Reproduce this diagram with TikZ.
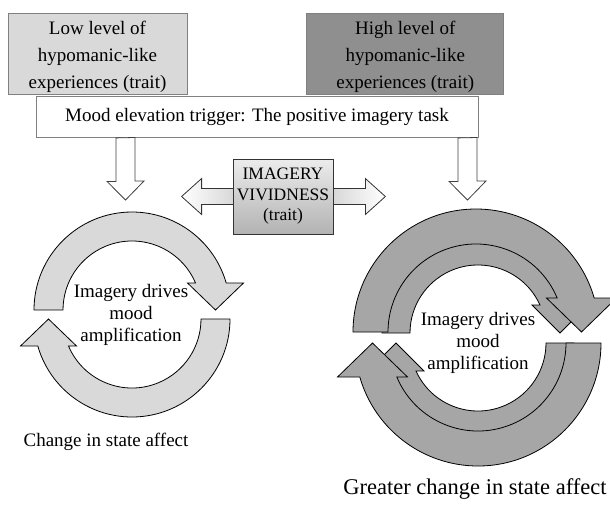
\documentclass[tikz,border=0pt]{standalone}
\usepackage{fontspec}
\setmainfont{Liberation Serif}
\usetikzlibrary{calc,positioning,backgrounds}

\definecolor{lowgray}{HTML}{D9D9D9}
\definecolor{highgray}{HTML}{8F8F8F}
\definecolor{loopgray}{HTML}{A6A6A6}
\definecolor{framegray}{HTML}{808080}

% circular arrow, upper half, head pointing down on the right
% #1,#2 centre  #3 outer r  #4 inner r  #5 head length  #6 head half width
\newcommand{\toparc}[6]{({#1-#3},#2) arc[start angle=180, end angle={360-asin(#5/#3)}, radius=#3]
  -- ({#1+(#3+#4)/2+#6},{#2-#5}) -- ({#1+(#3+#4)/2},#2) -- ({#1+(#3+#4)/2-#6},{#2-#5})
  -- ({#1+sqrt(#4*#4-#5*#5)},{#2-#5}) arc[start angle={360-asin(#5/#4)}, end angle=180, radius=#4] -- cycle}
% lower half, head pointing up on the left
\newcommand{\botarc}[6]{({#1+#3},#2) arc[start angle=0, end angle={180-asin(#5/#3)}, radius=#3]
  -- ({#1-(#3+#4)/2-#6},{#2+#5}) -- ({#1-(#3+#4)/2},#2) -- ({#1-(#3+#4)/2+#6},{#2+#5})
  -- ({#1-sqrt(#4*#4-#5*#5)},{#2+#5}) arc[start angle={180-asin(#5/#4)}, end angle=0, radius=#4] -- cycle}

\begin{document}
\begin{tikzpicture}[x=1pt,y=-1pt,align=center]
\tikzstyle{trait}=[draw=framegray,line width=0.8pt,minimum height=81pt,inner sep=0pt]
\tikzstyle{traittext}=[align=center,yshift=-3.5pt,inner sep=0pt,font=\fontsize{19}{27}\selectfont]
\tikzstyle{trigger}=[draw=framegray,line width=0.8pt,fill=white,minimum width=442pt,minimum height=41pt,inner sep=0pt,font=\fontsize{19}{22}\selectfont]
\tikzstyle{vivid}=[draw=black!80,line width=0.8pt,top color=gray!15,bottom color=gray!60,minimum width=100pt,minimum height=75pt,inner sep=0pt,font=\fontsize{17.5}{20.5}\selectfont]
\tikzstyle{vividarrow}=[draw=black!80,line width=0.8pt,left color=white,right color=white,middle color=gray!60]
\tikzstyle{openarrow}=[draw=black!75,line width=0.8pt,fill=white]
\tikzstyle{loopL}=[draw=black,line width=0.8pt,fill=lowgray]
\tikzstyle{loopD}=[draw=black,line width=0.8pt,fill=loopgray]
\tikzstyle{inloop}=[font=\fontsize{19}{22}\selectfont]

\useasboundingbox (0,0) rectangle (610,504);

\node[trait, fill=lowgray, minimum width=179pt,
  label={[traittext]center:{Low level of\\hypomanic-like\\experiences (trait)}}] (low) at (97.5,53.5) {};
\node[trait, fill=highgray, minimum width=197pt, right=119pt of low,
  label={[traittext]center:{High level of\\hypomanic-like\\experiences (trait)}}] (high) {};
\node[trigger] (trigger) at (257,117) {Mood elevation trigger: The positive imagery task};

% trigger arrows
\coordinate (ltip) at (125.5,200);
\coordinate (rtip) at (467.5,200);
\draw[openarrow] ($(trigger.south -| ltip)+(-9.5,0)$) -- ++(0,43.5) -- ++(-9,0) -- (ltip) -- ++(18.5,-19) -- ++(-9,0) -- ++(0,-43.5) -- cycle;
\draw[openarrow] ($(trigger.south -| rtip)+(-9.5,0)$) -- ++(0,43.5) -- ++(-9,0) -- (rtip) -- ++(18.5,-19) -- ++(-9,0) -- ++(0,-43.5) -- cycle;

% imagery vividness
\node[vivid] (vivid) at (283,196.5) {IMAGERY\\VIVIDNESS\\(trait)};
\begin{scope}[on background layer]
\draw[vividarrow] ($(vivid.west)+(0,-8)$) -- ++(-31,0) -- ++(0,-10) -- ++(-20,18) -- ++(20,18) -- ++(0,-10)
  -- ($(vivid.west)+(0,8)$) -- ($(vivid.east)+(0,8)$) -- ++(32,0) -- ++(0,10) -- ++(20,-18) -- ++(-20,-18) -- ++(0,10) -- cycle;
\end{scope}

% low level loop
\draw[loopL] \toparc{132}{310}{98}{69}{27}{28};
\draw[loopL] \botarc{132}{319}{98}{69}{27}{28};
% high level loop
\draw[loopD] \toparc{478}{333}{96}{68}{28}{28};
\draw[loopD] \botarc{478}{343}{96}{68}{28}{28};
\draw[loopD] \toparc{476}{332}{123}{88}{34}{35};
\draw[loopD] \botarc{478}{343}{123}{88}{34}{35};

\node[inloop] (ltext) at (131,315) {Imagery drives\\mood\\amplification};
\node[inloop] (rtext) at (478,343) {Imagery drives\\mood\\amplification};
\node[font=\fontsize{19}{22}\selectfont] (lcap) at (106,442) {Change in state affect};
\node[font=\fontsize{22.5}{26}\selectfont] (rcap) at (475,489) {Greater change in state affect};
\end{tikzpicture}
\end{document}
